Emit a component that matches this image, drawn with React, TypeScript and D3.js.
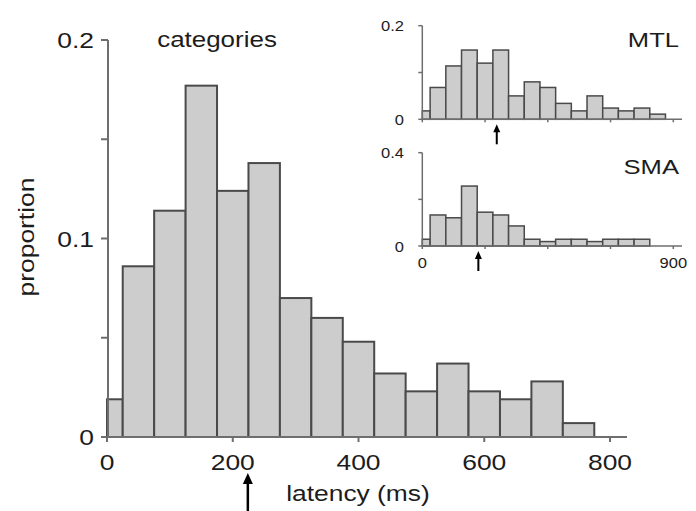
import React from "react";
import * as d3 from "d3";

// ---- data ----
const mainBinWidth = 50;
const mainValues = [0.019, 0.086, 0.114, 0.177, 0.124, 0.138, 0.07, 0.06, 0.048, 0.032, 0.023, 0.037, 0.023, 0.019, 0.028, 0.007];
const mainXTicks = [0, 200, 400, 600, 800];
const mainYTicks = [0, 0.05, 0.1, 0.15, 0.2];
const mainYLabels = [0, 0.1, 0.2];
const mainArrow = 224;

const insetBinWidth = 56.25;
const mtlValues = [0.018, 0.068, 0.114, 0.148, 0.12, 0.148, 0.05, 0.08, 0.068, 0.034, 0.018, 0.05, 0.024, 0.018, 0.024, 0.011];
const smaValues = [0.029, 0.133, 0.121, 0.257, 0.145, 0.133, 0.086, 0.029, 0.019, 0.029, 0.029, 0.019, 0.029, 0.029, 0.029];
const insetXTicks = [0, 225, 450, 675, 900];
const insetXLabels = [0, 900];
const mtlYTicks = [0, 0.1, 0.2];
const mtlYLabels = [0, 0.2];
const smaYTicks = [0, 0.2, 0.4];
const smaYLabels = [0, 0.4];
const mtlArrow = 267;
const smaArrow = 201;

const FONT = "'Liberation Sans', Arial, Helvetica, sans-serif";
const TEXT = "#1c1c1c";
const AXIS = "#6e6e6e";
const BAR_FILL = "#cdcdcd";
const BAR_STROKE = "#4a4a4a";

type TProps = { x: number; y: number; size: number; sx?: number; anchor?: string; rotate?: number; children: any };
const T = ({ x, y, size, sx = 1.2, anchor = "middle", rotate = 0, children }: TProps) => (
  <text
    transform={`translate(${x},${y}) rotate(${rotate}) scale(${sx},1)`}
    textAnchor={anchor as any}
    fontSize={size}
    fontFamily={FONT}
    fill={TEXT}
  >
    {children}
  </text>
);

function Bars({ values, bw, x, y, sw }: { values: number[]; bw: number; x: any; y: any; sw: number }) {
  return (
    <g>
      {values.map((v, i) => {
        const x0 = Math.max(0, i * bw - bw / 2);
        const x1 = i * bw + bw / 2;
        return (
          <rect
            key={i}
            x={x(x0)}
            y={y(v)}
            width={x(x1) - x(x0)}
            height={y(0) - y(v)}
            fill={BAR_FILL}
            stroke={BAR_STROKE}
            strokeWidth={sw}
          />
        );
      })}
    </g>
  );
}

function Arrow({ x, y0, y1, head, hw, sw }: { x: number; y0: number; y1: number; head: number; hw: number; sw: number }) {
  return (
    <g>
      <line x1={x} x2={x} y1={y0 + head - 1} y2={y1} stroke="#000" strokeWidth={sw} />
      <path d={`M${x},${y0} L${x - hw / 2},${y0 + head} L${x + hw / 2},${y0 + head} Z`} fill="#000" />
    </g>
  );
}

export default function App() {
  // main chart scales
  const xM = d3.scaleLinear().domain([0, 800]).range([107, 610]);
  const yM = d3.scaleLinear().domain([0, 0.2]).range([437, 40]);
  const axisYX = 108;

  // insets
  const xI = d3.scaleLinear().domain([0, 900]).range([422.3, 673.3]);
  const yMTL = d3.scaleLinear().domain([0, 0.2]).range([119.3, 25.7]);
  const ySMA = d3.scaleLinear().domain([0, 0.4]).range([246, 152.7]);

  const fmt = (v: number) => (v === 0 ? "0" : d3.format(".1f")(v));

  const inset = (vals: number[], y: any, yTicks: number[], yLabels: number[], label: string, arrowV: number, showX: boolean) => (
    <g>
      <Bars values={vals} bw={insetBinWidth} x={xI} y={y} sw={1.5} />
      <line x1={xI(0)} x2={682} y1={y(0)} y2={y(0)} stroke={AXIS} strokeWidth={1.5} />
      <line x1={xI(0)} x2={xI(0)} y1={y(0)} y2={y(yTicks[yTicks.length - 1])} stroke={AXIS} strokeWidth={1.5} />
      {yTicks.map((t) => (
        <line key={t} x1={xI(0) - 4} x2={xI(0)} y1={y(t)} y2={y(t)} stroke={AXIS} strokeWidth={1.5} />
      ))}
      {insetXTicks.map((t) => (
        <line key={t} x1={xI(t)} x2={xI(t)} y1={y(0)} y2={y(0) + 3} stroke={AXIS} strokeWidth={1.5} />
      ))}
      {yLabels.map((t) => (
        <T key={t} x={404} y={y(t) + 5.5} size={15} sx={1.1} anchor="end">
          {fmt(t)}
        </T>
      ))}
      {showX &&
        insetXLabels.map((t) => (
          <T key={t} x={xI(t)} y={y(0) + 22} size={15} sx={1.1}>
            {String(t)}
          </T>
        ))}
      <T x={679} y={y(yTicks[yTicks.length - 1]) + 21} size={20} sx={1.28} anchor="end">
        {label}
      </T>
      <Arrow x={xI(arrowV)} y0={y(0) + 5} y1={y(0) + 25} head={8} hw={7} sw={2} />
    </g>
  );

  return (
    <svg width={696} height={511} style={{ position: "absolute", left: 0, top: 0, background: "#fff" }}>
      <rect x={0} y={0} width={696} height={511} fill="#fff" />
      {/* main histogram */}
      <Bars values={mainValues} bw={mainBinWidth} x={xM} y={yM} sw={2} />
      <line x1={107} x2={627} y1={yM(0)} y2={yM(0)} stroke={AXIS} strokeWidth={2} />
      <line x1={axisYX} x2={axisYX} y1={yM(0)} y2={yM(0.2)} stroke={AXIS} strokeWidth={2} />
      {mainYTicks.map((t) => (
        <line key={t} x1={axisYX - 7} x2={axisYX} y1={yM(t)} y2={yM(t)} stroke={AXIS} strokeWidth={2} />
      ))}
      {mainXTicks.map((t) => (
        <line key={t} x1={xM(t)} x2={xM(t)} y1={yM(0)} y2={yM(0) + 5} stroke={AXIS} strokeWidth={2} />
      ))}
      {mainYLabels.map((t) => (
        <T key={t} x={94} y={yM(t) + 8} size={22} anchor="end">
          {fmt(t)}
        </T>
      ))}
      {mainXTicks.map((t) => (
        <T key={t} x={xM(t)} y={470} size={22}>
          {String(t)}
        </T>
      ))}
      <T x={217} y={47} size={22} sx={1.18}>categories</T>
      <T x={358} y={501} size={22}>latency (ms)</T>
      <T x={34} y={237} size={22} rotate={-90}>proportion</T>
      <Arrow x={xM(mainArrow)} y0={473} y1={511} head={11} hw={10} sw={2.5} />

      {/* insets */}
      {inset(mtlValues, yMTL, mtlYTicks, mtlYLabels, "MTL", mtlArrow, false)}
      {inset(smaValues, ySMA, smaYTicks, smaYLabels, "SMA", smaArrow, true)}
    </svg>
  );
}
